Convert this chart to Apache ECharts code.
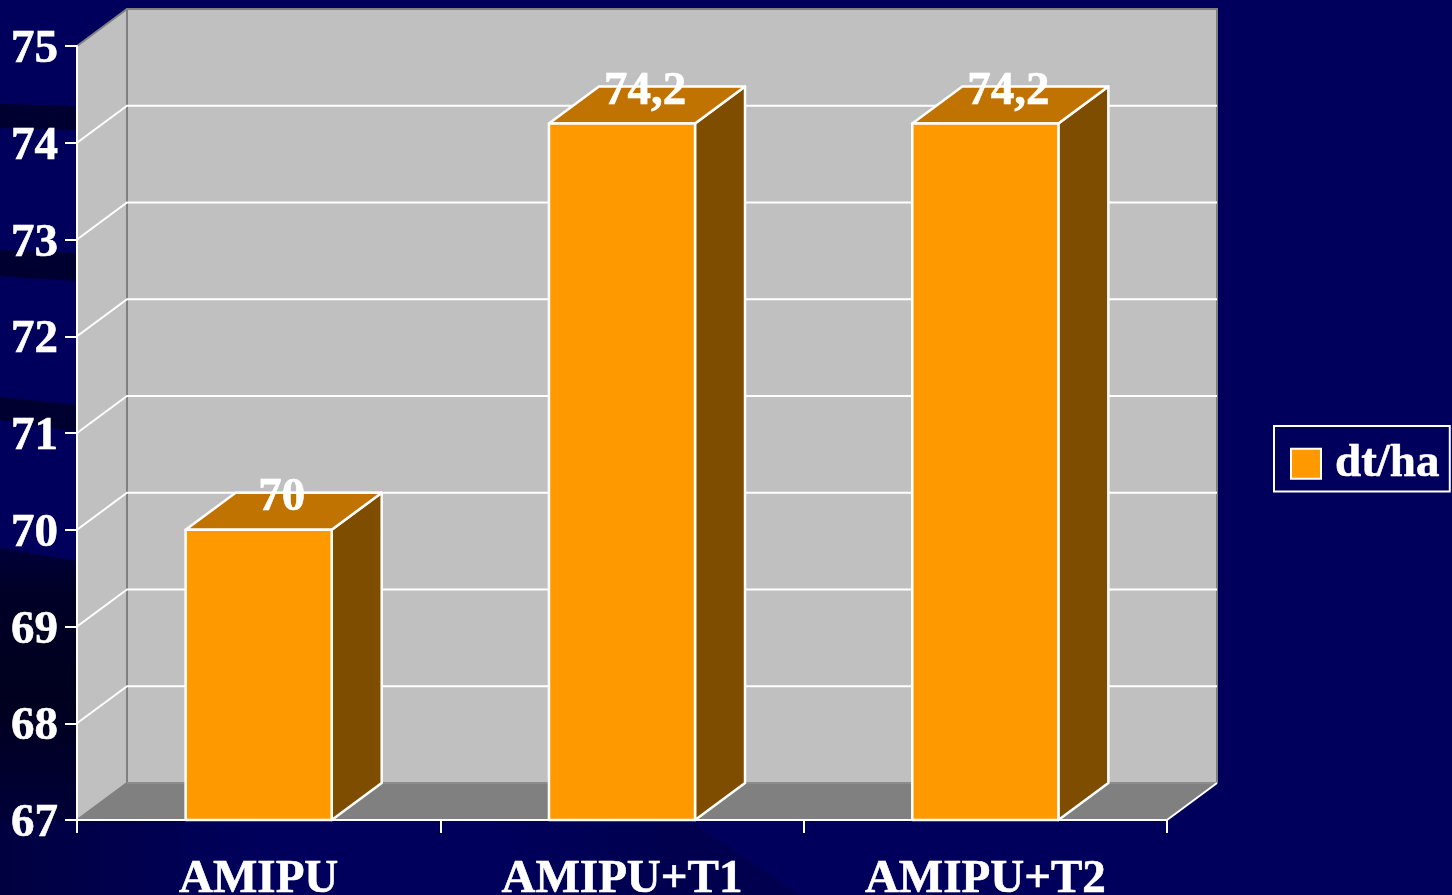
<!DOCTYPE html>
<html>
<head>
<meta charset="utf-8">
<title>dt/ha</title>
<style>
  html, body { margin: 0; padding: 0; background: #00005c; }
  #main { width: 1452px; height: 895px; }
</style>
<script src="https://cdn.jsdelivr.net/npm/echarts@6/dist/echarts.min.js"></script>
</head>
<body>
<div id="main"></div>
<script>
  var categories = ['AMIPU', 'AMIPU+T1', 'AMIPU+T2'];
  var yieldValues = [70, 74.2, 74.2];
  var gridTicks = [68, 69, 70, 71, 72, 73, 74];
  var seriesName = 'dt/ha';

  var depthX = 50, depthY = 37; // 3d offset of the back wall
  var barShare = 0.402;
  var serif = '"Liberation Serif", "Times New Roman", serif';
  var boldText = { color: '#fff', fontFamily: serif, fontWeight: 'bold', fontSize: 47, textBorderColor: '#fff', textBorderWidth: 0.6 };

  var chart = echarts.init(document.getElementById('main'), null, { renderer: 'canvas' });

  // walls and floor, taken from the grid rect
  function renderWalls(params) {
    var r = params.coordSys;
    var l = r.x, t = r.y, w = r.width, h = r.height, b = t + h;
    var gray = { stroke: '#808080', lineWidth: 2, fill: 'none' };
    return {
      type: 'group',
      children: [
        { type: 'rect', shape: { x: l + depthX, y: t - depthY, width: w, height: h }, style: { fill: '#c0c0c0' } },
        { type: 'polygon', shape: { points: [[l, t], [l + depthX, t - depthY], [l + depthX, b - depthY], [l, b]] }, style: { fill: '#c0c0c0' } },
        { type: 'polygon', shape: { points: [[l, b], [l + w, b], [l + w + depthX, b - depthY], [l + depthX, b - depthY]] }, style: { fill: '#808080' } },
        { type: 'polyline', shape: { points: [[l, t], [l + depthX, t - depthY], [l + w + depthX, t - depthY], [l + w + depthX, b - depthY]] }, style: gray },
        { type: 'polyline', shape: { points: [[l, b], [l + depthX, b - depthY], [l + depthX, t - depthY]] }, style: gray },
        { type: 'line', shape: { x1: l + depthX, y1: b - depthY, x2: l + w + depthX, y2: b - depthY }, style: { stroke: '#8c8c8c', lineWidth: 2 } },
        { type: 'line', shape: { x1: l + w, y1: b, x2: l + w + depthX, y2: b - depthY }, style: { stroke: '#fff', lineWidth: 2 } }
      ]
    };
  }

  // one gridline: diagonal on the side wall and straight on the back wall
  function renderGridline(params, api) {
    var r = params.coordSys;
    var y = api.coord([0, api.value(1)])[1];
    return {
      type: 'polyline',
      shape: { points: [[r.x, y], [r.x + depthX, y - depthY], [r.x + r.width + depthX, y - depthY]] },
      style: { stroke: '#fff', lineWidth: 2, fill: 'none' }
    };
  }

  function renderBar(params, api) {
    var idx = api.value(0);
    var val = api.value(1);
    var top = api.coord([idx, val]);
    var base = api.coord([idx, 67]);
    var bw = api.size([1, 0])[0] * barShare;
    var x0 = top[0] - bw / 2, x1 = top[0] + bw / 2;
    var line = { stroke: '#fff', lineWidth: 2.5, lineJoin: 'round' };
    return {
      type: 'group',
      children: [
        { type: 'polygon', shape: { points: [[x1, top[1]], [x1 + depthX, top[1] - depthY], [x1 + depthX, base[1] - depthY], [x1, base[1]]] }, style: Object.assign({ fill: '#7f4d00' }, line) },
        { type: 'polygon', shape: { points: [[x0, top[1]], [x0 + depthX, top[1] - depthY], [x1 + depthX, top[1] - depthY], [x1, top[1]]] }, style: Object.assign({ fill: '#c07300' }, line) },
        { type: 'rect', shape: { x: x0, y: top[1], width: bw, height: base[1] - top[1] }, style: Object.assign({ fill: '#ff9900' }, line) },
        {
          type: 'text',
          style: {
            text: String(val).replace('.', ','),
            x: top[0] + 23, y: top[1] - 32,
            align: 'center', verticalAlign: 'middle',
            fill: '#fff', font: 'bold 47px ' + serif,
            stroke: '#fff', lineWidth: 0.6
          }
        }
      ]
    };
  }

  function band(points, fill) {
    return { type: 'polygon', silent: true, z: -10, shape: { points: points }, style: { fill: fill } };
  }

  function fadeRight(color, x0, x1) {
    // horizontal fade out towards the plain background
    return {
      type: 'linear', x: 0, y: 0, x2: 1, y2: 0,
      colorStops: [{ offset: 0, color: color }, { offset: 1, color: x0 > x1 ? color : '#00005c' }]
    };
  }

  var option = {
    backgroundColor: '#00005c',
    animation: false,
    tooltip: { show: false },
    // dark streaks of the slide background
    graphic: [
      band([[0, 104], [77, 106], [77, 130], [0, 128]], '#000030'),
      band([[0, 250], [77, 253], [77, 281], [0, 276]], '#000030'),
      band([[0, 397], [77, 405], [77, 432], [0, 420]], '#000030'),
      band([[0, 548], [77, 561], [77, 821], [0, 821]], {
        type: 'linear', x: 0, y: 0, x2: 0, y2: 1,
        colorStops: [
          { offset: 0, color: '#000038' },
          { offset: 0.15, color: '#000028' },
          { offset: 0.55, color: '#00001e' },
          { offset: 1, color: '#000038' }
        ]
      }),
      band([[0, 821], [260, 821], [260, 895], [0, 895]], fadeRight('#000040', 0, 260)),
      band([[500, 821], [690, 821], [800, 895], [500, 895]], {
        type: 'linear', x: 0, y: 0, x2: 1, y2: 0,
        colorStops: [{ offset: 0, color: '#00005c' }, { offset: 0.6, color: '#00004e' }, { offset: 1, color: '#00004e' }]
      })
    ],
    grid: { left: 77, right: 285, top: 46, bottom: 75, containLabel: false, outerBoundsMode: 'none' },
    legend: {
      left: 1274,
      top: 426,
      data: [{ name: seriesName, icon: 'rect' }],
      itemWidth: 30,
      itemHeight: 30,
      itemGap: 0,
      padding: [14, 10, 4, 16],
      borderColor: '#fff',
      borderWidth: 2,
      selectedMode: false,
      itemStyle: { color: '#ff9900', borderColor: '#fff', borderWidth: 2 },
      textStyle: Object.assign({ padding: [0, 0, 0, 9] }, boldText)
    },
    xAxis: {
      type: 'category',
      data: categories,
      z: 4,
      axisLine: { lineStyle: { color: '#fff', width: 2 } },
      axisTick: { show: true, length: 13, lineStyle: { color: '#fff', width: 2 } },
      axisLabel: Object.assign({ margin: 36 }, boldText),
      splitLine: { show: false }
    },
    yAxis: {
      type: 'value',
      min: 67,
      max: 75,
      interval: 1,
      z: 4,
      axisLine: { show: true, lineStyle: { color: '#fff', width: 2 } },
      axisTick: { show: true, length: 12, lineStyle: { color: '#fff', width: 2 } },
      axisLabel: Object.assign({ margin: 19, verticalAlign: 'top', lineHeight: 8 }, boldText),
      splitLine: { show: false }
    },
    series: [
      {
        type: 'custom',
        name: 'walls',
        z: 1,
        silent: true,
        data: [[0, 67]],
        encode: { x: 0, y: 1 },
        renderItem: renderWalls
      },
      {
        type: 'custom',
        name: 'gridlines',
        z: 2,
        silent: true,
        data: gridTicks.map(function (v) { return [0, v]; }),
        encode: { x: 0, y: 1 },
        renderItem: renderGridline
      },
      {
        type: 'custom',
        name: seriesName,
        z: 3,
        itemStyle: { color: '#ff9900' },
        data: yieldValues.map(function (v, i) { return [i, v]; }),
        encode: { x: 0, y: 1 },
        renderItem: renderBar
      }
    ]
  };

  chart.setOption(option);
</script>
</body>
</html>
